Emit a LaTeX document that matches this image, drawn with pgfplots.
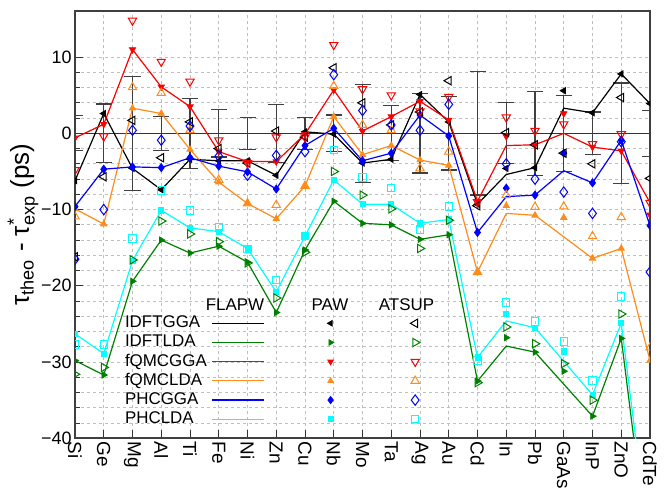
\documentclass[border=0pt]{standalone}
\usepackage{pgfplots}
\pgfplotsset{compat=1.18}
\usepackage{amsmath}
\usepackage{fontspec}
\setmainfont{Liberation Sans}
\definecolor{cgreen}{RGB}{0,128,0}
\definecolor{cred}{RGB}{255,0,0}
\definecolor{corange}{RGB}{255,140,26}
\definecolor{cblue}{RGB}{0,0,255}
\definecolor{ccyan}{RGB}{0,255,255}
\pgfplotsset{
  lineleg/.style={legend image code/.code={\draw[##1] (0bp,0bp) -- (25.8bp,0bp);}},
  pawleg/.style={legend image code/.code={\path[draw=none,fill=none] (-32bp,0bp) -- (20bp,0bp); \draw[##1] plot[only marks] coordinates {(0bp,0bp)};}},
  atsleg/.style={legend image code/.code={\path[draw=none,fill=none] (-21.3bp,0bp) -- (5bp,0bp); \draw[##1] plot[only marks] coordinates {(0bp,0bp)};}},
  flapw/.style={mark=none, line width=0.6bp, forget plot},
  paw/.style={only marks, mark size=1.8bp, forget plot},
  ats/.style={only marks, mark size=2.4bp, forget plot},
}
\begin{document}
\begin{tikzpicture}
\begin{axis}[
  at={(0,0)}, anchor=south west,
  scale only axis, width=287.5bp, height=213.65bp,
  xmin=0, xmax=20, ymin=-40, ymax=16.05,
  xtick={0,...,20},
  xticklabels={Si,Ge,Mg,Al,Ti,Fe,Ni,Zn,Cu,Nb,Mo,Ta,Ag,Au,Cd,In,Pb,GaAs,InP,ZnO,CdTe},
  xticklabel style={rotate=-90, anchor=west, inner sep=1.5bp, font=\fontsize{9.5}{10}\selectfont},
  ytick={-40,-30,-20,-10,0,10},
  yticklabels={−40,−30,−20,−10,0,10},
  yticklabel style={font=\fontsize{9}{10}\selectfont, inner sep=1.5bp},
  minor y tick num=4,
  tick pos=left, tick align=inside,
  major tick length=4bp, minor tick length=2.5bp,
  tick style={black!80, line width=0.5bp},
  axis line style={black!75, line width=1bp},
  xmajorgrids, ymajorgrids, yminorgrids,
  grid style={dash pattern=on 1.5bp off 1.5bp, black!25, line width=0.4bp},
  minor grid style={dash pattern=on 1.5bp off 1.5bp, black!25, line width=0.4bp},
  extra y ticks={0}, extra y tick labels={},
  extra y tick style={grid=major, major grid style={solid, black!80, line width=0.8bp}, major tick length=0pt},
  ylabel={$\text{τ}_{\text{theo}}\text{ - }\text{τ}^{\text{*}}_{\text{exp}}\text{ (ps)}$},
  ylabel style={at={(axis description cs:-0.0904,0.5)}, anchor=center, font=\fontsize{13}{15}\selectfont},
  clip marker paths=true,
  legend columns=3, legend plot pos=right, legend cell align=left,
  legend style={at={(axis description cs:0.08696,0.2916)}, anchor=north west, draw=none, fill=none,
    inner sep=0pt, outer sep=0pt, column sep=0pt, row sep=0pt,
    font=\fontsize{8.5}{9}\selectfont, nodes={inner sep=0pt, text height=7bp, text depth=2.6bp}},
]
% experimental error bars
\addplot[draw=none, mark=none, forget plot,
  error bars/.cd, y dir=both, y explicit,
  error bar style={draw=black!75, line width=0.6bp},
  error mark options={draw=black!75, mark size=4bp, line width=0.6bp, rotate=90}]
coordinates {
(0,0) +- (0,2.3) (1,0) +- (0,3.85) (2,0) +- (0,7.5) (3,0) +- (0,2.2) (4,0) +- (0,4.6)
(5,0) +- (0,3.1) (6,0) +- (0,2.1) (7,0) +- (0,3.8) (8,0) +- (0,2.1) (9,0) +- (0,2.4)
(10,0) +- (0,6.4) (11,0) +- (0,3.6) (12,0) +- (0,5.2) (13,0) +- (0,4.8) (14,0) +- (0,8.1)
(15,0) +- (0,4.0) (16,0) +- (0,5.5) (17,0) +- (0,5.0) (18,0) +- (0,2.8) (19,0) +- (0,6.6) (20,0) +- (0,3.0)
};
% ---------- FLAPW lines ----------
\addplot[flapw, black] coordinates {(0,-6.2)(1,2.6)(2,-4.6)(3,-7.4)(4,-3.4)(5,-3.6)(6,-3.6)(7,-5.5)(8,0.2)(9,-0.1)(10,-3.9)(11,-3.4)(12,5.1)(13,1.5)(14,-9.3)(15,-5.4)(16,-4.5)(17,3.3)(18,2.7)(19,7.8)(20,3.9)};
\addplot[flapw, cgreen] coordinates {(0,-29.8)(1,-31.7)(2,-19.4)(3,-14.0)(4,-15.7)(5,-14.8)(6,-16.9)(7,-23.5)(8,-15.3)(9,-8.9)(10,-11.8)(11,-12.0)(12,-13.9)(13,-13.3)(14,-32.5)(15,-27.9)(16,-28.7)(18,-37.1)(19,-26.9)(20,-57)};
\addplot[flapw, cred] coordinates {(0,-0.6)(1,1.2)(2,11.0)(3,6.1)(4,3.5)(5,-2.4)(6,-3.7)(7,-3.7)(8,-0.1)(9,5.7)(10,0.3)(11,2.2)(12,4.2)(13,1.75)(14,-8.9)(15,-1.6)(16,-1.5)(17,0.0)(18,-1.8)(19,-2.3)(20,-9.1)};
\addplot[flapw, corange] coordinates {(0,-9.9)(1,-11.9)(2,3.3)(3,2.6)(4,-2.1)(5,-6.4)(6,-9.2)(7,-11.2)(8,-6.9)(9,2.2)(10,-2.8)(11,-1.6)(12,-3.5)(13,-4.2)(14,-18.2)(15,-10.5)(16,-10.75)(18,-16.4)(19,-15.1)(20,-29.8)};
\addplot[flapw, cblue] coordinates {(0,-9.6)(1,-4.7)(2,-4.4)(3,-4.5)(4,-3.2)(5,-4.3)(6,-5.05)(7,-7.3)(8,-1.6)(9,0.65)(10,-3.6)(11,-2.6)(12,2.4)(13,-0.35)(14,-13.0)(15,-8.3)(16,-8.1)(17,-4.9)(18,-6.5)(19,-0.9)(20,-12.1)};
\addplot[flapw, ccyan] coordinates {(0,-26.3)(1,-28.9)(2,-16.7)(3,-10.1)(4,-12.4)(5,-12.9)(6,-15.1)(7,-20.8)(8,-13.5)(9,-6.1)(10,-9.3)(11,-9.3)(12,-11.8)(13,-11.3)(14,-29.4)(15,-24.6)(16,-25.5)(18,-34.3)(19,-24.9)(20,-55)};
% ---------- PAW (filled) ----------
\addplot[paw, black, mark=triangle*, mark options={rotate=90}] coordinates {(0,-6.2)(1,2.6)(2,-4.6)(3,-7.4)(4,-3.4)(5,-3.6)(6,-3.6)(7,-5.5)(8,0.2)(9,-0.1)(10,-3.9)(11,-3.4)(12,5.1)(13,1.5)(14,-9.3)(15,-4.6)(16,-4.5)(17,5.6)(18,2.7)(19,7.8)(20,3.9)};
\addplot[paw, cgreen, mark=triangle*, mark options={rotate=-90}] coordinates {(0,-29.8)(1,-31.7)(2,-19.4)(3,-14.0)(4,-15.7)(5,-14.8)(6,-16.9)(7,-23.5)(8,-15.3)(9,-8.9)(10,-11.8)(11,-12.0)(12,-13.9)(13,-13.3)(14,-32.5)(15,-26.8)(16,-28.7)(17,-31.2)(18,-37.1)(19,-26.9)};
\addplot[paw, cred, mark=triangle*, mark options={rotate=180}] coordinates {(0,-0.6)(1,1.2)(2,11.0)(3,6.1)(4,3.5)(5,-2.4)(6,-3.7)(7,-3.7)(8,-0.1)(9,5.7)(10,0.3)(11,2.2)(12,4.2)(13,1.75)(14,-8.9)(15,-0.4)(16,-1.5)(17,2.6)(18,-1.8)(19,-2.3)(20,-10.7)};
\addplot[paw, corange, mark=triangle*] coordinates {(0,-9.9)(1,-11.9)(2,3.3)(3,2.6)(4,-2.1)(5,-6.4)(6,-9.2)(7,-11.2)(8,-6.9)(9,2.2)(10,-2.8)(11,-1.6)(12,-3.5)(13,-4.2)(14,-18.2)(15,-9.5)(16,-10.75)(17,-11.05)(18,-16.4)(19,-15.1)(20,-29.8)};
\addplot[paw, cblue, mark=diamond*, mark size=2bp] coordinates {(0,-9.6)(1,-4.7)(2,-4.4)(3,-4.5)(4,-3.2)(5,-4.3)(6,-5.05)(7,-7.3)(8,-1.6)(9,0.65)(10,-3.6)(11,-2.6)(12,2.4)(13,-0.35)(14,-13.0)(15,-7.2)(16,-8.1)(17,-2.6)(18,-6.5)(19,-0.9)(20,-12.1)};
\addplot[paw, ccyan, mark=square*, mark size=1.3bp] coordinates {(0,-26.3)(1,-28.9)(2,-16.7)(3,-10.1)(4,-12.4)(5,-12.9)(6,-15.1)(7,-20.8)(8,-13.5)(9,-6.1)(10,-9.3)(11,-9.3)(12,-11.8)(13,-11.3)(14,-29.4)(15,-23.7)(16,-25.5)(17,-28.6)(18,-34.3)(19,-24.9)};
% ---------- ATSUP (open) ----------
\addplot[ats, black, mark=triangle, mark options={rotate=90, line width=0.5bp}] coordinates {(0,-16.2)(1,-5.7)(2,1.7)(3,-3.2)(4,1.5)(5,-2.0)(6,-3.9)(7,0.3)(8,-0.5)(9,8.6)(10,4.0)(11,1.1)(12,2.8)(13,6.9)(14,-9.5)(15,0.1)(16,-1.5)(17,-2.6)(18,-4.0)(19,4.7)(20,-5.9)};
\addplot[ats, cgreen, mark=triangle, mark options={rotate=-90, line width=0.5bp}] coordinates {(0,-31.6)(1,-30.7)(2,-16.6)(3,-11.5)(4,-13.2)(5,-14.2)(6,-17.0)(7,-21.6)(8,-15.6)(9,-5.0)(10,-8.1)(11,-9.9)(12,-15.1)(13,-11.4)(14,-32.7)(15,-25.4)(16,-27.6)(17,-30.2)(18,-35.0)(19,-23.7)};
\addplot[ats, cred, mark=triangle, mark options={rotate=180, line width=0.5bp}] coordinates {(0,-4.8)(1,-0.4)(2,14.8)(3,9.4)(4,6.8)(5,-0.9)(6,-3.9)(7,-0.5)(8,-0.5)(9,11.6)(10,5.8)(11,5.0)(12,2.9)(13,4.8)(14,-9.0)(15,2.1)(16,0.35)(17,1.2)(18,-1.4)(19,-0.1)(20,-9.1)};
\addplot[ats, corange, mark=triangle, mark options={line width=0.5bp}] coordinates {(0,-10.9)(2,6.05)(3,5.3)(4,0.4)(5,-6.1)(6,-9.2)(7,-9.4)(8,-6.9)(9,6.2)(10,1.1)(11,0.4)(12,-4.6)(13,-2.4)(14,-18.2)(15,-8.1)(16,-9.65)(17,-9.6)(18,-13.5)(19,-11.0)(20,-28.1)};
\addplot[ats, cblue, mark=diamond, mark size=2.6bp, mark options={line width=0.5bp}] coordinates {(0,-16.5)(1,-10.0)(2,0.4)(3,-0.9)(4,0.95)(5,-3.0)(6,-5.5)(7,-2.9)(8,-2.4)(9,7.7)(10,3.0)(11,1.1)(12,0.4)(13,3.8)(15,-4.0)(16,-6.0)(17,-7.7)(18,-10.5)(19,-1.1)(20,-18.2)};
\addplot[ats, ccyan, mark=square, mark size=1.85bp, mark options={line width=0.5bp}] coordinates {(0,-27.7)(1,-27.7)(2,-13.8)(3,-7.5)(4,-10.1)(5,-12.3)(6,-15.2)(7,-19.2)(8,-13.5)(9,-2.2)(10,-5.8)(11,-7.2)(12,-12.6)(13,-9.6)(14,-29.8)(15,-22.2)(16,-24.7)(17,-27.3)(18,-32.4)(19,-21.4)};
% ---------- legend ----------
\addlegendimage{black, line width=0.6bp, lineleg}\addlegendentry{\makebox[43.4bp][l]{IDFTGGA}}
\addlegendimage{black, mark=triangle*, mark size=1.6bp, mark options={rotate=90}, pawleg}\addlegendentry{}
\addlegendimage{black, mark=triangle, mark size=2.4bp, mark options={rotate=90, line width=0.5bp}, atsleg}\addlegendentry{}
\addlegendimage{cgreen, line width=0.6bp, lineleg}\addlegendentry{\makebox[43.4bp][l]{IDFTLDA}}
\addlegendimage{cgreen, mark=triangle*, mark size=1.6bp, mark options={rotate=-90}, pawleg}\addlegendentry{}
\addlegendimage{cgreen, mark=triangle, mark size=2.4bp, mark options={rotate=-90, line width=0.5bp}, atsleg}\addlegendentry{}
\addlegendimage{cred, line width=0.6bp, lineleg}\addlegendentry{\makebox[43.4bp][l]{fQMCGGA}}
\addlegendimage{cred, mark=triangle*, mark size=1.6bp, mark options={rotate=180}, pawleg}\addlegendentry{}
\addlegendimage{cred, mark=triangle, mark size=2.4bp, mark options={rotate=180, line width=0.5bp}, atsleg}\addlegendentry{}
\addlegendimage{corange, line width=0.6bp, lineleg}\addlegendentry{\makebox[43.4bp][l]{fQMCLDA}}
\addlegendimage{corange, mark=triangle*, mark size=1.6bp, pawleg}\addlegendentry{}
\addlegendimage{corange, mark=triangle, mark size=2.4bp, mark options={line width=0.5bp}, atsleg}\addlegendentry{}
\addlegendimage{cblue, line width=0.6bp, lineleg}\addlegendentry{\makebox[43.4bp][l]{PHCGGA}}
\addlegendimage{cblue, mark=diamond*, mark size=1.8bp, pawleg}\addlegendentry{}
\addlegendimage{cblue, mark=diamond, mark size=2.6bp, mark options={line width=0.5bp}, atsleg}\addlegendentry{}
\addlegendimage{ccyan, line width=0.6bp, lineleg}\addlegendentry{\makebox[43.4bp][l]{PHCLDA}}
\addlegendimage{ccyan, mark=square*, mark size=1.2bp, pawleg}\addlegendentry{}
\addlegendimage{ccyan, mark=square, mark size=1.85bp, mark options={line width=0.5bp}, atsleg}\addlegendentry{}
\node[font=\fontsize{8.5}{9}\selectfont] at (axis cs:5.565,-22.52) {FLAPW};
\node[font=\fontsize{8.5}{9}\selectfont] at (axis cs:8.87,-22.52) {PAW};
\node[font=\fontsize{8.5}{9}\selectfont] at (axis cs:11.53,-22.52) {ATSUP};
\end{axis}
\pgfresetboundingbox
\useasboundingbox (-37.5bp,-28.85bp) rectangle (296bp,219.15bp);
\end{tikzpicture}
\end{document}
